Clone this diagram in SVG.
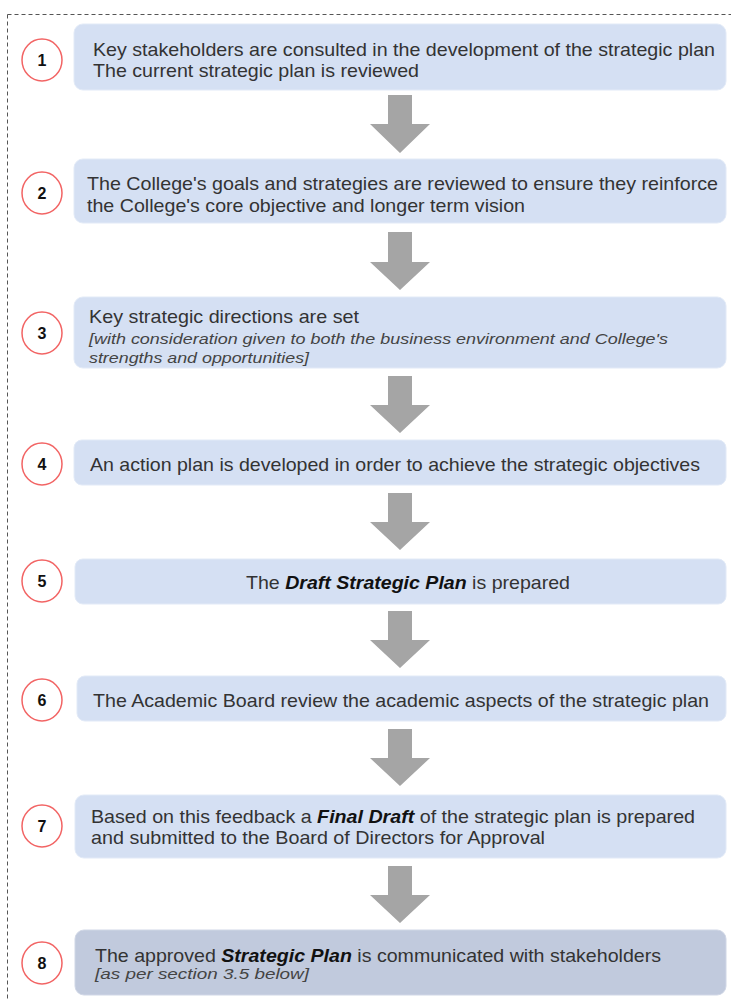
<svg xmlns="http://www.w3.org/2000/svg" width="731" height="999" viewBox="0 0 731 999">
<style>
.box{fill:#d5e0f3;stroke:#e2eaf7;stroke-width:1}
.box8{fill:#c1cadd;stroke:#d0d7e6;stroke-width:1}
.num{fill:#fff;stroke:#f26464;stroke-width:1.5}
.nt{font-family:"Liberation Sans",Arial,sans-serif;font-size:16px;font-weight:bold;fill:#111;text-anchor:middle}
.t{font-family:"Liberation Sans",Arial,sans-serif;font-size:18.5px;fill:#333}
.i{font-family:"Liberation Sans",Arial,sans-serif;font-size:15.5px;font-style:italic;fill:#444}
.bi{font-weight:bold;font-style:italic;fill:#111}
.arr{fill:#a5a5a5}
</style>
<rect width="731" height="999" fill="#fff"/>
<path d="M7.5 14.5 H740 M7.5 14.5 V1005" fill="none" stroke="#555" stroke-width="1" stroke-dasharray="4,3"/>
<g id="connectors">
<path class="arr" d="M388 95 H412 V124 H430 L400 153 L370 124 H388 Z"/>
<path class="arr" d="M388 232 H412 V262 H430 L400 290 L370 262 H388 Z"/>
<path class="arr" d="M388 376 H412 V405 H430 L400 433 L370 405 H388 Z"/>
<path class="arr" d="M388 493 H412 V522 H430 L400 550 L370 522 H388 Z"/>
<path class="arr" d="M388 611 H412 V640 H430 L400 668 L370 640 H388 Z"/>
<path class="arr" d="M388 729 H412 V758 H430 L400 786 L370 758 H388 Z"/>
<path class="arr" d="M388 866 H412 V895 H430 L400 923 L370 895 H388 Z"/>
</g>
<g id="step1">
<ellipse class="num" cx="42" cy="60" rx="20" ry="21"/><text class="nt" x="42" y="66">1</text>
<rect class="box" x="74" y="24" width="652" height="66" rx="9"/>
<text class="t" x="93" y="55.5" textLength="622" lengthAdjust="spacingAndGlyphs">Key stakeholders are consulted in the development of the strategic plan</text>
<text class="t" x="93" y="76.5" textLength="326" lengthAdjust="spacingAndGlyphs">The current strategic plan is reviewed</text>
</g>
<g id="step2">
<ellipse class="num" cx="42" cy="193" rx="20" ry="21"/><text class="nt" x="42" y="199">2</text>
<rect class="box" x="74" y="159" width="652" height="64" rx="9"/>
<text class="t" x="87" y="190" textLength="631" lengthAdjust="spacingAndGlyphs">The College's goals and strategies are reviewed to ensure they reinforce</text>
<text class="t" x="87" y="212" textLength="438" lengthAdjust="spacingAndGlyphs">the College's core objective and longer term vision</text>
</g>
<g id="step3">
<ellipse class="num" cx="42" cy="333" rx="20" ry="21"/><text class="nt" x="42" y="339">3</text>
<rect class="box" x="74" y="297" width="652" height="71" rx="9"/>
<text class="t" x="89" y="323" textLength="270" lengthAdjust="spacingAndGlyphs">Key strategic directions are set</text>
<text class="i" x="89" y="344" textLength="579" lengthAdjust="spacingAndGlyphs">[with consideration given to both the business environment and College's</text>
<text class="i" x="89" y="363" textLength="220" lengthAdjust="spacingAndGlyphs">strengths and opportunities]</text>
</g>
<g id="step4">
<ellipse class="num" cx="42" cy="464" rx="20" ry="21"/><text class="nt" x="42" y="470">4</text>
<rect class="box" x="74" y="440" width="652" height="45" rx="8"/>
<text class="t" x="90" y="471" textLength="610" lengthAdjust="spacingAndGlyphs">An action plan is developed in order to achieve the strategic objectives</text>
</g>
<g id="step5">
<ellipse class="num" cx="42" cy="581" rx="20" ry="21"/><text class="nt" x="42" y="587">5</text>
<rect class="box" x="75" y="559" width="651" height="45" rx="8"/>
<text class="t" x="246" y="589" textLength="324" lengthAdjust="spacingAndGlyphs">The <tspan class="bi">Draft Strategic Plan</tspan> is prepared</text>
</g>
<g id="step6">
<ellipse class="num" cx="42" cy="700" rx="20" ry="21"/><text class="nt" x="42" y="706">6</text>
<rect class="box" x="77" y="676" width="649" height="45" rx="8"/>
<text class="t" x="93" y="707" textLength="616" lengthAdjust="spacingAndGlyphs">The Academic Board review the academic aspects of the strategic plan</text>
</g>
<g id="step7">
<ellipse class="num" cx="42" cy="826" rx="20" ry="21"/><text class="nt" x="42" y="832">7</text>
<rect class="box" x="75" y="795" width="651" height="63" rx="9"/>
<text class="t" x="91" y="823" textLength="604" lengthAdjust="spacingAndGlyphs">Based on this feedback a <tspan class="bi">Final Draft</tspan> of the strategic plan is prepared</text>
<text class="t" x="91" y="844" textLength="454" lengthAdjust="spacingAndGlyphs">and submitted to the Board of Directors for Approval</text>
</g>
<g id="step8">
<ellipse class="num" cx="42" cy="963" rx="20" ry="21"/><text class="nt" x="42" y="969">8</text>
<rect class="box8" x="75" y="930" width="651" height="65" rx="9"/>
<text class="t" x="95" y="962" textLength="566" lengthAdjust="spacingAndGlyphs">The approved <tspan class="bi">Strategic Plan</tspan> is communicated with stakeholders</text>
<text class="i" x="95" y="979" textLength="214" lengthAdjust="spacingAndGlyphs">[as per section 3.5 below]</text>
</g>
</svg>
